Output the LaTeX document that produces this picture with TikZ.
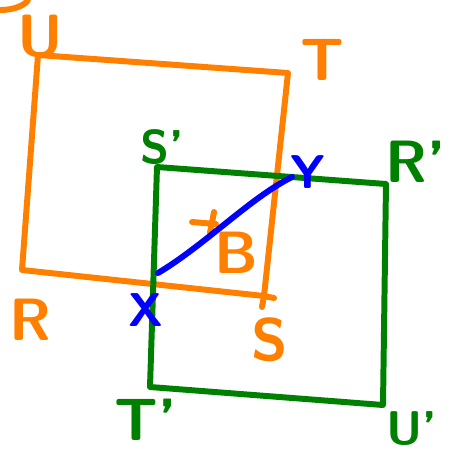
\documentclass[tikz,border=0pt]{standalone}
\usepackage{tikz}

\definecolor{pen orange}{RGB}{255,128,0}
\definecolor{pen green}{RGB}{0,128,0}
\definecolor{pen blue}{RGB}{0,0,255}

\begin{document}
\begin{tikzpicture}[x=0.02cm, y=-0.02cm,
  stroke/.style={line width=3.4pt, line cap=round, line join=round},
  big/.style={font=\sffamily\bfseries\fontsize{34}{34}\selectfont, inner sep=0pt},
  small/.style={font=\sffamily\bfseries\fontsize{27}{27}\selectfont, inner sep=0pt}]
  \useasboundingbox (0,0) rectangle (450,451);
  % corners of the orange square
  \coordinate (oU) at (38,55);
  \coordinate (oT) at (288,73);
  \coordinate (oS) at (264,296);
  \coordinate (oR) at (22,270);
  \coordinate (oSr) at (274,298);
  \coordinate (oSd) at (262,307);
  % corners of the green square
  \coordinate (gS) at (157,167);
  \coordinate (gR) at (386,184);
  \coordinate (gU) at (383,405);
  \coordinate (gT) at (150,387);
  % ends of the blue arc
  \coordinate (X) at (158,273);
  \coordinate (Y) at (292,177);
  % orange square
  \draw[stroke, pen orange] (oU) -- (oT) -- (oS) -- (oR) -- cycle;
  \draw[stroke, pen orange] (oS) -- (oSr) (oS) -- (oSd);
  \draw[stroke, pen orange] (0,10) .. controls (15,10) and (25,5) .. (28,0);
  \draw[stroke, pen orange] (192,222) -- (216,224) (214,212) -- (210,233);
  % green square
  \draw[stroke, pen green] (gS) -- (gR) -- (gU) -- (gT) -- cycle;
  % blue arc X to Y
  \draw[stroke, pen blue] (X) .. controls (205,245) and (250,198) .. (Y);
  % labels
  \node[big, pen orange] (labU) at (40,36) {U};
  \node[big, pen orange] (labT) at (322,60) {T};
  \node[big, pen orange] (labR) at (30,320) {R};
  \node[big, pen orange] (labS) at (270,340) {S};
  \node[big, pen orange] (labB) at (236,253) {B};
  \node[small, pen green] (labSp) at (162,147) {S'};
  \node[big, pen green] (labRp) at (416,162) {R'};
  \node[big, pen green] (labTp) at (146,420) {T'};
  \node[small, pen green] (labUp) at (412,429) {U'};
  \node[small, pen blue] (labX) at (146,310) {X};
  \node[small, pen blue] (labY) at (308,172) {Y};
\end{tikzpicture}
\end{document}
